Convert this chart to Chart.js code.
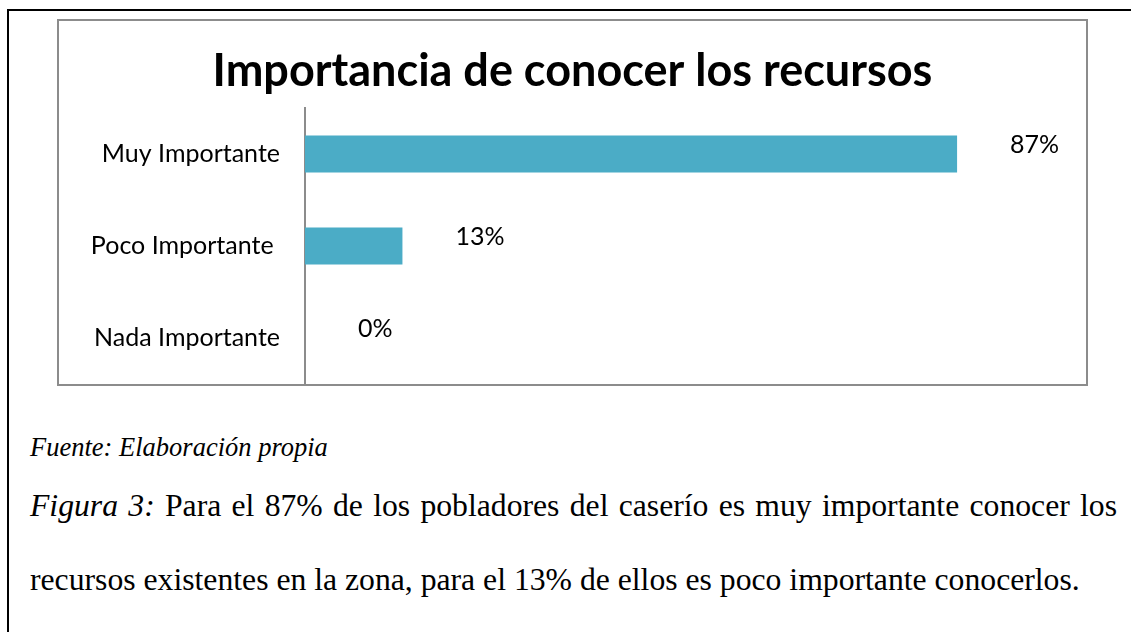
<!DOCTYPE html>
<html>
<head>
<meta charset="utf-8">
<script src="https://cdn.jsdelivr.net/npm/chart.js@4.4.1/dist/chart.umd.min.js"></script>
<style>
  html, body { margin: 0; padding: 0; background: #fff; width: 1131px; height: 632px; overflow: hidden; }
  .page { position: absolute; left: 7px; top: 9px; width: 1200px; height: 700px; border: 2px solid #000; }
  .chart-box { position: absolute; left: 57px; top: 19px; width: 1031px; height: 367px; border: 2px solid #8c8c8c; box-sizing: border-box; }
  .chart-box canvas { display: block; }
  .fuente { position: absolute; left: 30px; top: 434px; font: italic 26.5px "Liberation Serif", serif; line-height: 26px; white-space: nowrap; }
  .linea { position: absolute; left: 30px; width: 1087px; font: 31.7px "Liberation Serif", serif; line-height: 31.7px; white-space: nowrap; }
  .justif { text-align: justify; text-align-last: justify; }
</style>
</head>
<body>
<div class="page"></div>
<div class="chart-box"><canvas id="chart" width="1027" height="363"></canvas></div>
<div class="fuente">Fuente: Elaboración propia</div>
<div class="linea justif" style="top:490px"><i>Figura 3:</i> Para el 87% de los pobladores del caserío es muy importante conocer los</div>
<div class="linea" style="top:564px">recursos existentes en la zona, para el 13% de ellos es poco importante conocerlos.</div>
<script>
const titulo = 'Importancia de conocer los recursos';
const categorias = ['Muy Importante', 'Poco Importante ', 'Nada Importante'];
const porcentajes = [87, 13, 0];
const ejeMax = 104.2;

// etiquetas de porcentaje a la derecha de cada barra
const etiquetas = {
  id: 'etiquetas',
  afterDatasetsDraw(chart) {
    const ctx = chart.ctx;
    const meta = chart.getDatasetMeta(0);
    ctx.save();
    ctx.font = '25px Lato';
    ctx.fillStyle = '#000';
    ctx.textAlign = 'left';
    ctx.textBaseline = 'middle';
    meta.data.forEach((bar, i) => {
      ctx.fillText(porcentajes[i] + '%', bar.x + 53, bar.y - 9);
    });
    ctx.restore();
  }
};

const ctx = document.getElementById('chart').getContext('2d');
new Chart(ctx, {
  type: 'bar',
  data: {
    labels: categorias,
    datasets: [{
      data: porcentajes,
      backgroundColor: '#4bacc6',
      borderWidth: 0,
      categoryPercentage: 0.8,
      barPercentage: 0.5
    }]
  },
  options: {
    indexAxis: 'y',
    responsive: false,
    animation: false,
    layout: { padding: 0 },
    plugins: {
      legend: { display: false },
      tooltip: { enabled: false },
      title: {
        display: true,
        text: titulo,
        color: '#000',
        font: { family: 'Lato', size: 45, weight: 'bold' },
        padding: { top: 23, bottom: 10 }
      }
    },
    scales: {
      x: {
        display: false,
        min: 0,
        max: ejeMax
      },
      y: {
        grid: { display: false, drawTicks: false },
        border: { display: true, color: '#8c8c8c', width: 2 },
        ticks: {
          color: '#000',
          padding: 25,
          font: { family: 'Lato', size: 25 }
        },
        afterFit(scale) {
          scale.width = 246;
          scale.paddingTop = 0;
          scale.paddingBottom = 0;
        }
      }
    }
  },
  plugins: [etiquetas]
});
</script>
</body>
</html>
